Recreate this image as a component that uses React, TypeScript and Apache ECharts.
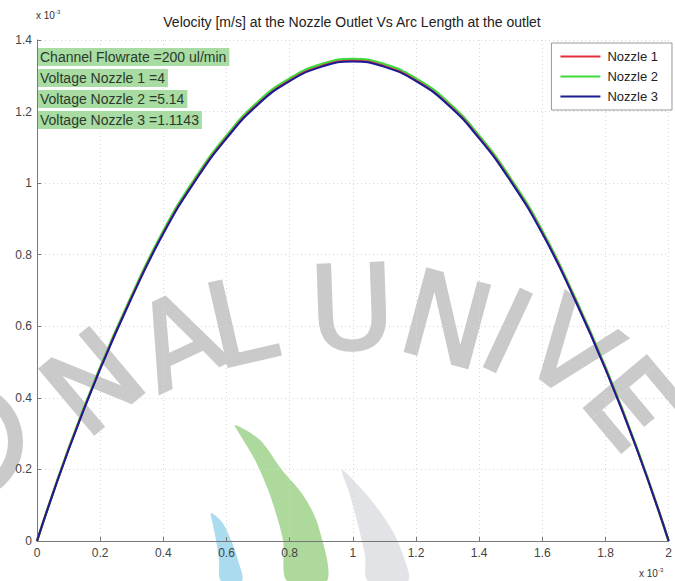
import React, { useEffect, useRef } from "react";
import * as echarts from "echarts";

// Arc length along the outlet (x 10^-3)
const arcLength = [0, 0.1, 0.2, 0.3, 0.4, 0.5, 0.6, 0.7, 0.8, 0.9, 1.0, 1.1, 1.2, 1.3, 1.4, 1.5, 1.6, 1.7, 1.8, 1.9, 2.0];

// Outlet velocity per nozzle (x 10^-3 m/s)
const nozzle1 = [0, 0.256, 0.482, 0.682, 0.861, 1.007, 1.127, 1.222, 1.287, 1.327, 1.342, 1.327, 1.287, 1.222, 1.127, 1.007, 0.861, 0.682, 0.482, 0.256, 0];
const nozzle2 = [0, 0.258, 0.485, 0.686, 0.866, 1.012, 1.132, 1.227, 1.292, 1.332, 1.347, 1.332, 1.292, 1.227, 1.132, 1.012, 0.866, 0.686, 0.485, 0.258, 0];
const nozzle3 = [0, 0.255, 0.48, 0.68, 0.859, 1.005, 1.125, 1.22, 1.285, 1.325, 1.34, 1.325, 1.285, 1.22, 1.125, 1.005, 0.859, 0.68, 0.48, 0.255, 0];

const seriesNames = ["Nozzle 1", "Nozzle 2", "Nozzle 3"];
const seriesColors = ["#e0303c", "#3ddc3d", "#1c1c96"];

const annotations = [
  "Channel Flowrate =200 ul/min",
  "Voltage Nozzle 1 =4",
  "Voltage Nozzle 2 =5.14",
  "Voltage Nozzle 3 =1.1143",
];

const titleText = "Velocity [m/s] at the Nozzle Outlet Vs Arc Length at the outlet";

// Watermark lettering laid out along an arc
const watermarkLetters = [
  { ch: "N", x: 93, y: 382, rot: 40 },
  { ch: "A", x: 178, y: 340, rot: 25 },
  { ch: "L", x: 240, y: 322, rot: 13 },
  { ch: "U", x: 352, y: 308, rot: 2 },
  { ch: "N", x: 447, y: 320, rot: -15 },
  { ch: "I", x: 507, y: 332, rot: -25 },
  { ch: "V", x: 570, y: 350, rot: -37 },
];

const WATERMARK = "#cacaca";
const FONT = "'Liberation Sans', Arial, Helvetica, sans-serif";

export default function App() {
  const ref = useRef<HTMLDivElement>(null);

  useEffect(() => {
    if (!ref.current) return;
    const chart = echarts.init(ref.current, undefined, { renderer: "svg" });

    const toPairs = (ys: number[]) => arcLength.map((x, i) => [x, ys[i]]);
    const values = [nozzle1, nozzle2, nozzle3];

    const graphics: any[] = [];

    // watermark: leading "O" drawn as a ring, partly off the left edge
    graphics.push({
      type: "ring",
      z: -1,
      silent: true,
      shape: { cx: -36, cy: 442, r: 59, r0: 44 },
      style: { fill: WATERMARK },
    });

    // watermark letters
    watermarkLetters.forEach((l) => {
      graphics.push({
        type: "text",
        x: l.x,
        y: l.y,
        rotation: (l.rot * Math.PI) / 180,
        z: -1,
        silent: true,
        style: {
          text: l.ch,
          fontSize: 116,
          fontFamily: "'DejaVu Sans', sans-serif",
          fill: WATERMARK,
          stroke: WATERMARK,
          lineWidth: 3,
          align: "center",
          verticalAlign: "middle",
        },
      });
    });

    // watermark: trailing "E" built from bars, running off the right edge
    graphics.push({
      type: "group",
      x: 634,
      y: 404,
      rotation: (-50 * Math.PI) / 180,
      z: -1,
      silent: true,
      children: [
        { type: "rect", z: -1, shape: { x: -30, y: -42, width: 14, height: 84 }, style: { fill: WATERMARK } },
        { type: "rect", z: -1, shape: { x: -16, y: -42, width: 46, height: 14 }, style: { fill: WATERMARK } },
        { type: "rect", z: -1, shape: { x: -16, y: -7, width: 40, height: 14 }, style: { fill: WATERMARK } },
        { type: "rect", z: -1, shape: { x: -16, y: 28, width: 46, height: 14 }, style: { fill: WATERMARK } },
      ],
    });

    // watermark leaves
    const leaves = [
      {
        fill: "rgba(150,210,235,0.8)",
        pts: [[211, 513], [222, 522], [231, 540], [238, 560], [242, 581], [221, 581], [219, 560], [216, 540], [213, 525]],
      },
      {
        fill: "rgba(160,210,140,0.85)",
        pts: [[235, 425], [260, 440], [282, 470], [303, 495], [318, 525], [327, 581], [287, 581], [283, 540], [270, 495], [255, 460], [242, 438]],
      },
      {
        fill: "rgba(222,224,228,0.9)",
        pts: [[342, 470], [358, 485], [375, 505], [392, 530], [403, 555], [408, 581], [368, 581], [365, 555], [358, 525], [350, 495]],
      },
    ];
    leaves.forEach((lf) => {
      graphics.push({
        type: "polygon",
        z: -1,
        silent: true,
        shape: { points: lf.pts, smooth: 0.3 },
        style: { fill: lf.fill },
      });
    });

    // title
    graphics.push({
      type: "text",
      x: 352,
      y: 22,
      z: 10,
      style: {
        text: titleText,
        fontSize: 14,
        fontFamily: FONT,
        fill: "#222",
        align: "center",
        verticalAlign: "middle",
      },
    });

    // axis exponents
    const exponent = (x: number, y: number) => ({
      type: "text",
      x,
      y,
      z: 10,
      style: {
        text: "x 10{s|-3}",
        fontSize: 10,
        fontFamily: FONT,
        fill: "#333",
        verticalAlign: "middle",
        rich: { s: { fontSize: 6, verticalAlign: "top", padding: [0, 0, 7, 0] } },
      },
    });
    graphics.push(exponent(36, 15));
    graphics.push(exponent(639, 573));

    // annotation lines with green backgrounds
    annotations.forEach((t, i) => {
      graphics.push({
        type: "text",
        x: 38,
        y: 57 + i * 21,
        z: 10,
        style: {
          text: t,
          fontSize: 14,
          fontFamily: FONT,
          fill: "#2c3a2c",
          verticalAlign: "middle",
          backgroundColor: "#a8dca2",
          padding: [2, 3, 2, 2],
        },
      });
    });

    chart.setOption({
      animation: false,
      backgroundColor: "#ffffff",
      grid: { left: 37, right: 2, top: 40, bottom: 40, containLabel: false },
      legend: {
        data: seriesNames,
        orient: "vertical",
        right: 3,
        top: 43,
        itemWidth: 40,
        itemHeight: 14,
        itemGap: 7,
        padding: [7, 14, 7, 8],
        backgroundColor: "#ffffff",
        borderColor: "#999",
        borderWidth: 1,
        borderRadius: 0,
        itemStyle: { opacity: 0 },
        textStyle: { fontSize: 13, fontFamily: FONT, color: "#222", padding: [0, 0, 0, 2] },
        z: 20,
      },
      xAxis: {
        type: "value",
        min: 0,
        max: 2,
        interval: 0.2,
        axisLine: { show: true, onZero: false, lineStyle: { color: "#777", width: 1 } },
        axisTick: { show: true, inside: true, length: 4, lineStyle: { color: "#777" } },
        axisLabel: { fontSize: 12, fontFamily: FONT, color: "#444", margin: 6 },
        splitLine: { show: true, lineStyle: { color: "#d6d6d6", type: [1, 3] } },
      },
      yAxis: {
        type: "value",
        min: 0,
        max: 1.4,
        interval: 0.2,
        axisLine: { show: true, onZero: false, lineStyle: { color: "#777", width: 1 } },
        axisTick: { show: true, inside: true, length: 4, lineStyle: { color: "#777" } },
        axisLabel: { fontSize: 12, fontFamily: FONT, color: "#444", margin: 5 },
        splitLine: { show: true, lineStyle: { color: "#d6d6d6", type: [1, 3] } },
      },
      series: seriesNames.map((name, i) => ({
        name,
        type: "line",
        data: toPairs(values[i]),
        smooth: true,
        symbol: "none",
        z: 5 + (i === 2 ? 2 : i === 0 ? 1 : 0),
        lineStyle: { color: seriesColors[i], width: i === 1 ? 2.6 : 2 },
        itemStyle: { color: seriesColors[i] },
      })),
      graphic: graphics,
    });

    return () => chart.dispose();
  }, []);

  return (
    <div
      ref={ref}
      style={{ position: "fixed", left: 0, top: 0, width: 675, height: 581 }}
    />
  );
}
